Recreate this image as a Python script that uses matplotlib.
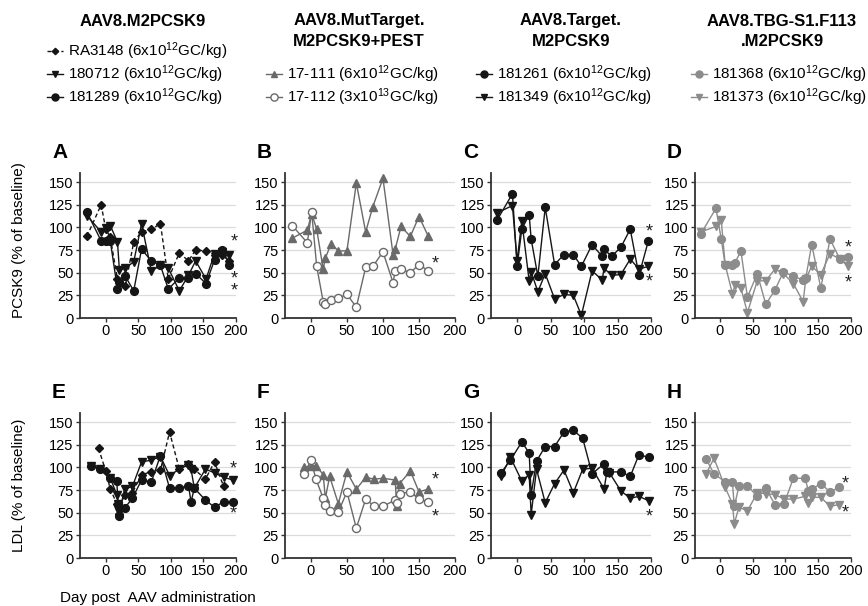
import matplotlib
matplotlib.use('Agg')
import matplotlib.pyplot as plt
from matplotlib.lines import Line2D

plt.rcParams['font.family'] = ['Liberation Sans', 'DejaVu Sans']
plt.rcParams['mathtext.fontset'] = 'custom'
plt.rcParams['mathtext.rm'] = 'Liberation Sans'
plt.rcParams['mathtext.it'] = 'Liberation Sans:italic'
plt.rcParams['mathtext.bf'] = 'Liberation Sans:bold'

# ---- data (days post AAV, % of baseline) ----
# A: PCSK9, AAV8.M2PCSK9
a_days = [-29, -7, 0, 7, 18, 21, 30, 43, 55, 70, 84, 96, 113, 127, 138, 154, 167, 179, 190]
a_ra3148 = [90, 125, 98, 89, 43, 41, 35, 84, 95, 98, 104, 43, 72, 63, 75, 74, 70, 69, 63]
a_180712 = [113, 95, 99, 102, 84, 53, 55, 62, 104, 52, 58, 55, 30, 47, 63, 43, 71, 73, 70]
a_181289 = [117, 85, 85, 85, 32, 40, 46, 30, 76, 63, 58, 32, 44, 44, 49, 38, 64, 75, 59]
a_stars = [88, 47, 36]

# B: PCSK9, AAV8.MutTarget.M2PCSK9+PEST
b_days = [-26, -5, 1, 8, 17, 20, 28, 38, 50, 63, 76, 86, 100, 114, 117, 125, 138, 150, 163]
b_17111 = [88, 97, 115, 98, 54, 66, 82, 74, 74, 149, 95, 123, 154, 70, 76, 101, 90, 112, 90]
b_17112 = [102, 83, 117, 57, 18, 16, 20, 22, 26, 12, 56, 57, 73, 39, 52, 54, 50, 59, 52]
b_stars = [64]

# C: PCSK9, AAV8.Target.M2PCSK9
c_days = [-30, -7, 0, 7, 18, 21, 31, 42, 56, 70, 84, 96, 112, 127, 130, 141, 155, 169, 182, 196]
c_181261 = [108, 137, 57, 98, 114, 87, 46, 122, 59, 70, 70, 57, 81, 68, 76, 68, 78, 98, 47, 85]
c_181349 = [116, 124, 63, 107, 41, 51, 29, 49, 21, 26, 25, 3, 52, 42, 55, 47, 48, 65, 54, 57]
c_stars = [99, 44]

# D: PCSK9, AAV8.TBG-S1.F113.M2PCSK9
d_days = [-29, -6, 2, 8, 19, 23, 32, 42, 57, 70, 84, 97, 112, 127, 131, 140, 154, 168, 183, 196]
d_181368 = [93, 121, 87, 59, 59, 61, 74, 23, 49, 15, 31, 51, 46, 42, 44, 81, 33, 87, 65, 67]
d_181373 = [95, 101, 108, 59, 27, 36, 33, 6, 41, 41, 54, 49, 38, 18, 43, 57, 48, 71, 65, 57]
d_stars = [81, 43]

# E: LDL, AAV8.M2PCSK9
e_days = [-23, -9, 7, 17, 19, 21, 29, 41, 55, 70, 84, 98, 113, 127, 131, 136, 153, 167, 181, 196]
e_181289 = [102, 98, 88, 85, 58, 46, 55, 66, 86, 84, 113, 77, 77, 80, 62, 77, 64, 56, 62, 62]
e_180712 = [102, 98, 88, 70, 60, 51, 76, 79, 106, 108, 112, 91, 98, 103, 98, 77, 98, 94, 89, 86]
e_ra_days = [-11, 0, 7, 17, 21, 29, 41, 55, 70, 84, 98, 113, 127, 136, 153, 167, 181]
e_ra3148 = [121, 96, 76, 60, 49, 69, 72, 92, 95, 97, 139, 98, 104, 98, 87, 106, 79]
e_stars = [102, 52]

# F: LDL, AAV8.MutTarget.M2PCSK9+PEST
f_days = [-9, 0, 7, 17, 20, 26, 38, 50, 63, 76, 88, 100, 117, 119, 123, 138, 150, 163]
f_17111 = [100, 101, 102, 92, 66, 90, 60, 95, 76, 89, 87, 88, 86, 57, 82, 96, 73, 76]
f_17112 = [93, 108, 87, 66, 59, 52, 51, 73, 33, 65, 57, 57, 64, 61, 71, 73, 65, 62]
f_stars = [90, 49]

# G: LDL, AAV8.Target.M2PCSK9
g_days = [-24, -10, 7, 18, 21, 29, 42, 56, 70, 84, 98, 112, 130, 134, 138, 155, 169, 182, 197]
g_181261 = [94, 108, 128, 116, 70, 107, 123, 123, 139, 141, 132, 93, 104, 95, 95, 95, 90, 114, 111]
g_181349 = [90, 111, 85, 92, 48, 98, 61, 82, 97, 72, 98, 99, 76, 95, 94, 74, 66, 68, 63]
g_stars = [49]

# H: LDL, AAV8.TBG-S1.F113.M2PCSK9
h_days = [-21, -9, 8, 19, 22, 29, 42, 57, 70, 84, 98, 112, 130, 135, 140, 154, 168, 182]
h_181368 = [109, 93, 84, 84, 57, 79, 80, 68, 77, 59, 60, 88, 88, 74, 76, 82, 73, 78]
h_181373 = [93, 110, 78, 60, 38, 56, 52, 72, 71, 70, 65, 65, 68, 61, 67, 67, 57, 59]
h_stars = [86, 53]

y_ticks = [0, 25, 50, 75, 100, 125, 150]
x_ticks = [0, 50, 100, 150, 200]

# ---- styles ----
BLACK = '#151515'
DGRAY = '#6a6a6a'
LGRAY = '#8c8c8c'
sty = {
    'dia': dict(marker='D', ms=3.6, color=BLACK, ls=(0, (3, 2)), lw=1.0),
    'tri': dict(marker='v', ms=5.3, color=BLACK, ls='-', lw=1.0),
    'cir': dict(marker='o', ms=5.6, color=BLACK, ls='-', lw=1.0),
    'up':  dict(marker='^', ms=5.3, color=DGRAY, ls='-', lw=1.0),
    'open': dict(marker='o', ms=5.8, color=DGRAY, mfc='white', mec=DGRAY, ls='-', lw=1.0),
    'gcir': dict(marker='o', ms=5.6, color=LGRAY, ls='-', lw=1.0),
    'gtri': dict(marker='v', ms=5.3, color=LGRAY, ls='-', lw=1.0),
}

W, H = 868, 606
fig = plt.figure(figsize=(W / 100, H / 100), dpi=100)


def fx(x):
    return x / W


def fy(y):
    return 1 - y / H


# panel geometry in pixels: (left, right, xmin)
cols = [(80, 236, -39.5), (285, 455, -36), (491, 651, -39), (695, 851, -38)]
rows = [(173, 318), (413, 558)]

panels = [
    ('A', 0, 0, [(a_days, a_ra3148, 'dia'), (a_days, a_180712, 'tri'), (a_days, a_181289, 'cir')], 198, a_stars),
    ('B', 0, 1, [(b_days, b_17111, 'up'), (b_days, b_17112, 'open')], 172, b_stars),
    ('C', 0, 2, [(c_days, c_181261, 'cir'), (c_days, c_181349, 'tri')], 198, c_stars),
    ('D', 0, 3, [(d_days, d_181368, 'gcir'), (d_days, d_181373, 'gtri')], 196, d_stars),
    ('E', 1, 0, [(e_ra_days, e_ra3148, 'dia'), (e_days, e_180712, 'tri'), (e_days, e_181289, 'cir')], 196, e_stars),
    ('F', 1, 1, [(f_days, f_17111, 'up'), (f_days, f_17112, 'open')], 172, f_stars),
    ('G', 1, 2, [(g_days, g_181261, 'cir'), (g_days, g_181349, 'tri')], 198, g_stars),
    ('H', 1, 3, [(h_days, h_181368, 'gcir'), (h_days, h_181373, 'gtri')], 191, h_stars),
]

for letter, r, c, series, star_x, stars in panels:
    left, right, xmin = cols[c]
    top, bottom = rows[r]
    ax = fig.add_axes([fx(left), fy(bottom), (right - left) / W, (bottom - top) / H])
    for days, vals, key in series:
        ax.plot(days, vals, clip_on=False, **sty[key])

    # asterisks: stars that sit close together are stacked in one text
    groups = []
    for v in sorted(stars, reverse=True):
        if groups and groups[-1][-1] - v < 15:
            groups[-1].append(v)
        else:
            groups.append([v])
    for g in groups:
        ax.annotate('\n'.join('*' * len(g)), xy=(star_x, g[0]), xytext=(0, 3.6),
                    textcoords='offset points', fontsize=13, ha='center', va='top',
                    linespacing=0.62, color='#222222', annotation_clip=False)

    ax.set_xlim(xmin, 200)
    ax.set_ylim(0, 160)
    ax.set_yticks(y_ticks)
    ax.set_xticks(x_ticks)
    for yv in y_ticks[1:]:
        ax.axhline(yv, color='#dcdcdc', lw=0.9, zorder=0)
    for s in ['top', 'right']:
        ax.spines[s].set_visible(False)
    for s in ['left', 'bottom']:
        ax.spines[s].set_color('#333333')
        ax.spines[s].set_linewidth(1.3)
    ax.tick_params(axis='both', labelsize=10.5, length=3, width=1.0, color='#333333', pad=1.5)
    fig.text(fx(left - 28), fy(top - 20), letter, fontsize=15, fontweight='bold', ha='left', va='center')

fig.text(fx(19), fy(240), 'PCSK9 (% of baseline)', rotation=90, fontsize=11, ha='center', va='center')
fig.text(fx(19), fy(485), 'LDL (% of baseline)', rotation=90, fontsize=11, ha='center', va='center')
fig.text(fx(158), fy(598), 'Day post  AAV administration', fontsize=11, ha='center', va='center')

# ---- legend block ----
headers = [(143, ['AAV8.M2PCSK9']),
           (359, ['AAV8.MutTarget.', 'M2PCSK9+PEST']),
           (571, ['AAV8.Target.', 'M2PCSK9']),
           (782, ['AAV8.TBG-S1.F113', '.M2PCSK9'])]
for cx, lines in headers:
    for i, t in enumerate(lines):
        fig.text(fx(cx), fy(21 + 21 * i), t, fontsize=12, fontweight='bold', ha='center', va='center')

dose6 = ' (6x10$^{12}$GC/kg)'
dose3 = ' (3x10$^{13}$GC/kg)'
legend_items = [
    (47, 51, 'dia', 'RA3148' + dose6),
    (47, 74, 'tri', '180712' + dose6),
    (47, 97, 'cir', '181289' + dose6),
    (266, 74, 'up', '17-111' + dose6),
    (266, 97, 'open', '17-112' + dose3),
    (476, 74, 'cir', '181261' + dose6),
    (476, 97, 'tri', '181349' + dose6),
    (691, 74, 'gcir', '181368' + dose6),
    (691, 97, 'gtri', '181373' + dose6),
]
for x0, y0, key, label in legend_items:
    st = dict(sty[key])
    fig.add_artist(Line2D([fx(x0), fx(x0 + 16)], [fy(y0), fy(y0)], transform=fig.transFigure,
                          color=st['color'], ls=st['ls'], lw=st['lw']))
    mk = dict(marker=st['marker'], ms=st['ms'] * 0.9, color=st['color'], ls='none')
    if 'mfc' in st:
        mk['mfc'] = st['mfc']
        mk['mec'] = st['mec']
    fig.add_artist(Line2D([fx(x0 + 8)], [fy(y0)], transform=fig.transFigure, **mk))
    fig.text(fx(x0 + 21), fy(y0), label, fontsize=11, ha='left', va='center')

fig.savefig('out.png', dpi=100)
